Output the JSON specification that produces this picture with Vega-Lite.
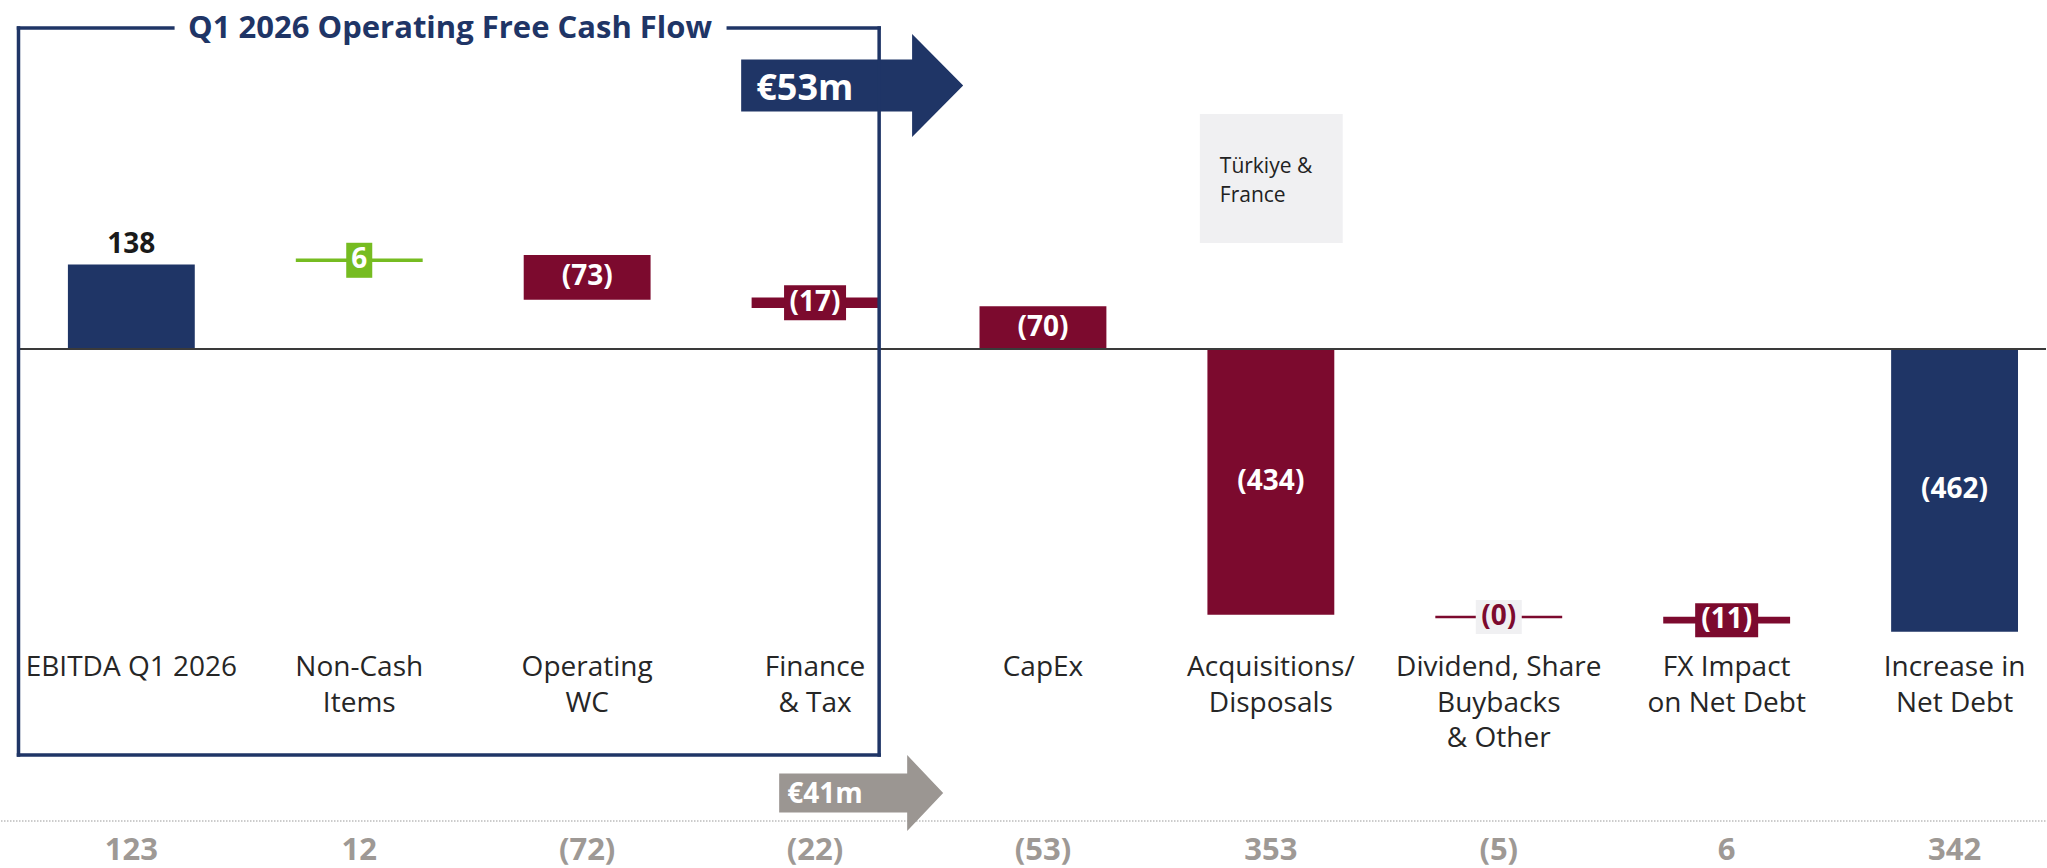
{
  "$schema": "https://vega.github.io/schema/vega-lite/v6.json",
  "width": 2047,
  "height": 868,
  "autosize": {"type": "fit", "contains": "padding"},
  "padding": 0,
  "background": "white",
  "config": {"view": {"stroke": null}, "font": "Open Sans"},
  "datasets": {
    "flows": [
      {"item": "EBITDA Q1 2026", "kind": "total", "start": 0, "end": 138, "label": "138", "prior": "123"},
      {"item": "Non-Cash\nItems", "kind": "inflow", "start": 142, "end": 148, "label": "6", "prior": "12"},
      {"item": "Operating\nWC", "kind": "outflow", "start": 153.5, "end": 80.5, "label": "(73)", "prior": "(72)"},
      {"item": "Finance\n& Tax", "kind": "outflow", "start": 84, "end": 67, "label": "(17)", "prior": "(22)"},
      {"item": "CapEx", "kind": "outflow", "start": 70, "end": 0, "label": "(70)", "prior": "(53)"},
      {"item": "Acquisitions/\nDisposals", "kind": "outflow", "start": 0, "end": -434, "label": "(434)", "prior": "353"},
      {"item": "Dividend, Share\nBuybacks\n& Other", "kind": "outflow", "start": -438, "end": -438, "label": "(0)", "prior": "(5)"},
      {"item": "FX Impact\non Net Debt", "kind": "outflow", "start": -437.5, "end": -448.5, "label": "(11)", "prior": "6"},
      {"item": "Increase in\nNet Debt", "kind": "total", "start": 0, "end": -462, "label": "(462)", "prior": "342"}
    ],
    "frame": [
      {"x": -0.4953, "x2": -0.4953, "y": 524.5, "y2": -663.4},
      {"x": 3.2811, "x2": 3.2811, "y": 524.5, "y2": -663.4},
      {"x": -0.4953, "x2": 3.2811, "y": -663.4, "y2": -663.4},
      {"x": -0.4953, "x2": 0.1819, "y": 524.5, "y2": 524.5},
      {"x": 2.6192, "x2": 3.2811, "y": 524.5, "y2": 524.5}
    ]
  },
  "resolve": {"scale": {"x": "independent"}},
  "layer": [
    {
      "layer": [
        {
          "data": {"name": "flows"},
          "mark": {"type": "bar"},
          "encoding": {
            "x": {"field": "item", "type": "nominal", "sort": null, "axis": null,
              "scale": {"domain": ["EBITDA Q1 2026", "Non-Cash\nItems", "Operating\nWC", "Finance\n& Tax", "CapEx", "Acquisitions/\nDisposals", "Dividend, Share\nBuybacks\n& Other", "FX Impact\non Net Debt", "Increase in\nNet Debt"],
                "paddingInner": 0.4433, "paddingOuter": 0.2082, "align": 0.705}},
            "y": {"field": "start", "type": "quantitative", "axis": null, "scale": {"domain": [-848, 570.3], "nice": false, "zero": false}},
            "y2": {"field": "end"},
            "fill": {"field": "kind", "type": "nominal", "legend": null, "scale": {"domain": ["total", "inflow", "outflow"], "range": ["#1f3566", "#76bc21", "#7c0a2e"]}},
            "stroke": {"field": "kind", "type": "nominal", "legend": null, "scale": {"domain": ["total", "inflow", "outflow"], "range": ["#1f3566", "#76bc21", "#7c0a2e"]}},
            "strokeWidth": {"condition": {"test": "datum.start === datum.end", "value": 2.5}, "value": 0}
          }
        },
        {
          "data": {"name": "flows"},
          "transform": [
            {"filter": {"field": "label", "oneOf": ["6", "(17)", "(0)", "(11)"]}},
            {"fold": ["start", "end"], "as": ["edge", "level"]}
          ],
          "mark": {"type": "point", "filled": true, "size": 3969, "opacity": 1, "strokeWidth": 0},
          "encoding": {
            "x": {"field": "item", "type": "nominal", "axis": null},
            "y": {"field": "level", "type": "quantitative", "aggregate": "mean", "axis": null},
            "shape": {"field": "label", "type": "nominal", "legend": null, "scale": {"domain": ["6", "(17)", "(0)", "(11)"],
              "range": ["M-0.413,-0.556H0.413V0.556H-0.413Z", "M-0.984,-0.556H0.984V0.556H-0.984Z", "M-0.73,-0.54H0.73V0.54H-0.73Z", "M-1,-0.54H1V0.54H-1Z"]}},
            "color": {"field": "label", "type": "nominal", "legend": null, "scale": {"domain": ["6", "(17)", "(0)", "(11)"], "range": ["#76bc21", "#7c0a2e", "#f0f0f2", "#7c0a2e"]}}
          }
        },
        {
          "data": {"name": "flows"},
          "transform": [
            {"filter": "datum.label !== '138'"},
            {"fold": ["start", "end"], "as": ["edge", "level"]}
          ],
          "mark": {"type": "text", "fontWeight": "bold", "fontSize": 28, "baseline": "middle", "align": "center"},
          "encoding": {
            "x": {"field": "item", "type": "nominal", "axis": null},
            "y": {"field": "level", "type": "quantitative", "aggregate": "mean", "axis": null},
            "text": {"field": "label"},
            "color": {"condition": {"test": "datum.label === '(0)'", "value": "#7c0a2e"}, "value": "#ffffff"}
          }
        },
        {
          "data": {"name": "flows"},
          "transform": [{"filter": "datum.label === '138'"}],
          "mark": {"type": "text", "fontWeight": "bold", "fontSize": 28, "baseline": "alphabetic", "align": "center", "dy": -12, "color": "#1a1a1a"},
          "encoding": {
            "x": {"field": "item", "type": "nominal", "axis": null},
            "y": {"field": "end", "type": "quantitative", "axis": null},
            "text": {"field": "label"}
          }
        },
        {
          "data": {"name": "flows"},
          "mark": {"type": "text", "fontSize": 28, "baseline": "alphabetic", "align": "center", "lineBreak": "\n", "lineHeight": 35.3, "color": "#262626"},
          "encoding": {
            "x": {"field": "item", "type": "nominal", "axis": null},
            "y": {"datum": -535, "type": "quantitative", "axis": null},
            "text": {"field": "item"}
          }
        },
        {
          "data": {"name": "flows"},
          "mark": {"type": "text", "fontSize": 31, "fontWeight": "bold", "baseline": "middle", "align": "center", "color": "#9e9995"},
          "encoding": {
            "x": {"field": "item", "type": "nominal", "axis": null},
            "y": {"datum": -820.9, "type": "quantitative", "axis": null},
            "text": {"field": "prior"}
          }
        }
      ]
    },
    {
      "layer": [
        {
          "data": {"values": [{"x": -0.4932, "x2": 8.4011, "y": 0}]},
          "mark": {"type": "rule", "color": "#3a3a3a", "strokeWidth": 2},
          "encoding": {
            "x": {"field": "x", "type": "quantitative", "axis": null, "scale": {"domain": [-0.5721, 8.4011], "nice": false, "zero": false}},
            "x2": {"field": "x2"},
            "y": {"field": "y", "type": "quantitative", "axis": null}
          }
        },
        {
          "data": {"values": [{"x": -0.5721, "x2": 8.4011, "y": -771.2}]},
          "mark": {"type": "rule", "color": "#9a9a9a", "strokeWidth": 1.2, "strokeDash": [1.5, 1.5]},
          "encoding": {
            "x": {"field": "x", "type": "quantitative", "axis": null},
            "x2": {"field": "x2"},
            "y": {"field": "y", "type": "quantitative", "axis": null}
          }
        },
        {
          "data": {"values": [{"x": 4.6882, "x2": 5.3151, "y": 384.0, "y2": 173.2}]},
          "mark": {"type": "rect", "color": "#f0f0f2"},
          "encoding": {
            "x": {"field": "x", "type": "quantitative", "axis": null},
            "x2": {"field": "x2"},
            "y": {"field": "y", "type": "quantitative", "axis": null},
            "y2": {"field": "y2"}
          }
        },
        {
          "data": {"values": [{"x": 4.7759, "y": 288.1, "note": "Türkiye &\nFrance"}]},
          "mark": {"type": "text", "fontSize": 21, "align": "left", "baseline": "alphabetic", "lineBreak": "\n", "lineHeight": 29, "color": "#222222"},
          "encoding": {
            "x": {"field": "x", "type": "quantitative", "axis": null},
            "y": {"field": "y", "type": "quantitative", "axis": null},
            "text": {"field": "note"}
          }
        },
        {
          "data": {"values": [{"x": 3.1627, "y": 430.6}]},
          "mark": {"type": "point", "filled": true, "opacity": 1, "strokeWidth": 0, "size": 49284, "color": "#1f3566",
            "shape": "M-1,-0.234L0.54,-0.234L0.54,-0.464L1,0L0.54,0.464L0.54,0.234L-1,0.234Z"},
          "encoding": {
            "x": {"field": "x", "type": "quantitative", "axis": null},
            "y": {"field": "y", "type": "quantitative", "axis": null}
          }
        },
        {
          "data": {"values": [{"x": 3.2022, "y": -725.5}]},
          "mark": {"type": "point", "filled": true, "opacity": 1, "strokeWidth": 0, "size": 26896, "color": "#9b9692",
            "shape": "M-1,-0.238L0.561,-0.238L0.561,-0.463L1,0L0.561,0.463L0.561,0.238L-1,0.238Z"},
          "encoding": {
            "x": {"field": "x", "type": "quantitative", "axis": null},
            "y": {"field": "y", "type": "quantitative", "axis": null}
          }
        },
        {
          "data": {"values": [{"x": 2.7419, "y": 424.5, "t": "€53m"}]},
          "mark": {"type": "text", "fontSize": 36, "fontWeight": "bold", "align": "left", "baseline": "middle", "color": "#ffffff"},
          "encoding": {
            "x": {"field": "x", "type": "quantitative", "axis": null},
            "y": {"field": "y", "type": "quantitative", "axis": null},
            "text": {"field": "t"}
          }
        },
        {
          "data": {"values": [{"x": 2.8778, "y": -728.1, "t": "€41m"}]},
          "mark": {"type": "text", "fontSize": 28, "fontWeight": "bold", "align": "left", "baseline": "middle", "color": "#ffffff"},
          "encoding": {
            "x": {"field": "x", "type": "quantitative", "axis": null},
            "y": {"field": "y", "type": "quantitative", "axis": null},
            "text": {"field": "t"}
          }
        },
        {
          "data": {"name": "frame"},
          "mark": {"type": "rule", "color": "#1f3566", "strokeWidth": 3.5, "strokeCap": "square"},
          "encoding": {
            "x": {"field": "x", "type": "quantitative", "axis": null},
            "x2": {"field": "x2"},
            "y": {"field": "y", "type": "quantitative", "axis": null},
            "y2": {"field": "y2"}
          }
        },
        {
          "data": {"values": [{"x": 1.3984, "y": 522.9, "t": "Q1 2026 Operating Free Cash Flow"}]},
          "mark": {"type": "text", "fontSize": 31, "fontWeight": "bold", "align": "center", "baseline": "middle", "color": "#1f3566"},
          "encoding": {
            "x": {"field": "x", "type": "quantitative", "axis": null},
            "y": {"field": "y", "type": "quantitative", "axis": null},
            "text": {"field": "t"}
          }
        }
      ]
    }
  ]
}
